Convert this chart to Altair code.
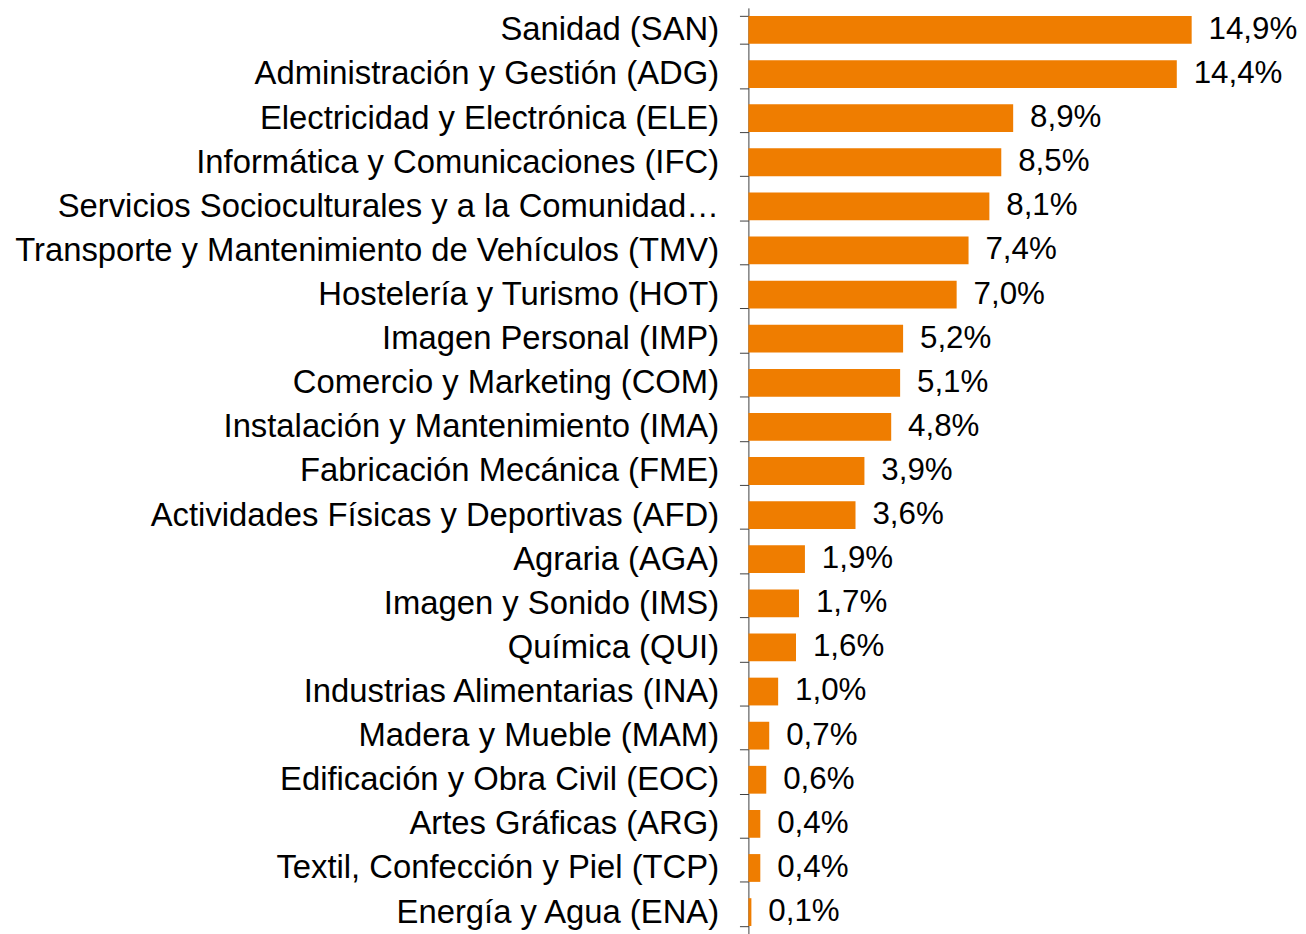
import altair as alt
import pandas as pd

categories = [
    "Sanidad (SAN)",
    "Administración y Gestión (ADG)",
    "Electricidad y Electrónica (ELE)",
    "Informática y Comunicaciones (IFC)",
    "Servicios Socioculturales y a la Comunidad…",
    "Transporte y Mantenimiento de Vehículos (TMV)",
    "Hostelería y Turismo (HOT)",
    "Imagen Personal (IMP)",
    "Comercio y Marketing (COM)",
    "Instalación y Mantenimiento (IMA)",
    "Fabricación Mecánica (FME)",
    "Actividades Físicas y Deportivas (AFD)",
    "Agraria (AGA)",
    "Imagen y Sonido (IMS)",
    "Química (QUI)",
    "Industrias Alimentarias (INA)",
    "Madera y Mueble (MAM)",
    "Edificación y Obra Civil (EOC)",
    "Artes Gráficas (ARG)",
    "Textil, Confección y Piel (TCP)",
    "Energía y Agua (ENA)",
]
values = [14.9, 14.4, 8.9, 8.5, 8.1, 7.4, 7.0, 5.2, 5.1, 4.8, 3.9, 3.6,
          1.9, 1.7, 1.6, 1.0, 0.7, 0.6, 0.4, 0.4, 0.1]

df = pd.DataFrame({"cat": categories, "val": values})
df["label"] = [f"{v:.1f}".replace(".", ",") + "%" for v in values]

FONT = "Liberation Sans"
FS = 33
ORANGE = "#EF7D00"

y_enc = alt.Y(
    "cat:N",
    sort=None,
    title=None,
    scale=alt.Scale(paddingInner=0.37, paddingOuter=0.185),
    axis=alt.Axis(
        tickBand="extent",
        tickSize=9,
        tickColor="#404040",
        domainColor="#404040",
        labelPadding=21,
        labelFont=FONT,
        labelFontSize=FS,
        labelColor="#000000",
        labelLimit=1000,
        grid=False,
    ),
)
x_scale = alt.Scale(domain=[0, 15], nice=False, zero=True)

bars = alt.Chart(df).mark_bar(color=ORANGE).encode(
    y=y_enc, x=alt.X("val:Q", scale=x_scale, axis=None)
)
text = alt.Chart(df).mark_text(
    align="left", baseline="middle", dx=17, font=FONT, fontSize=31.5, color="#000000"
).encode(
    y=y_enc,
    x=alt.X("val:Q", scale=x_scale, axis=None),
    text="label:N",
)

chart = (
    alt.layer(bars, text)
    .properties(
        width=449,
        height=932,
        background="white",
        autosize=alt.AutoSizeParams(type="none"),
        padding={"left": 745, "top": -3, "right": 104, "bottom": 0},
    )
    .configure_view(strokeWidth=0, stroke=None)
    .configure_axis(grid=False)
)

chart.save("out.html", embed_options={"renderer": "svg", "actions": False})
